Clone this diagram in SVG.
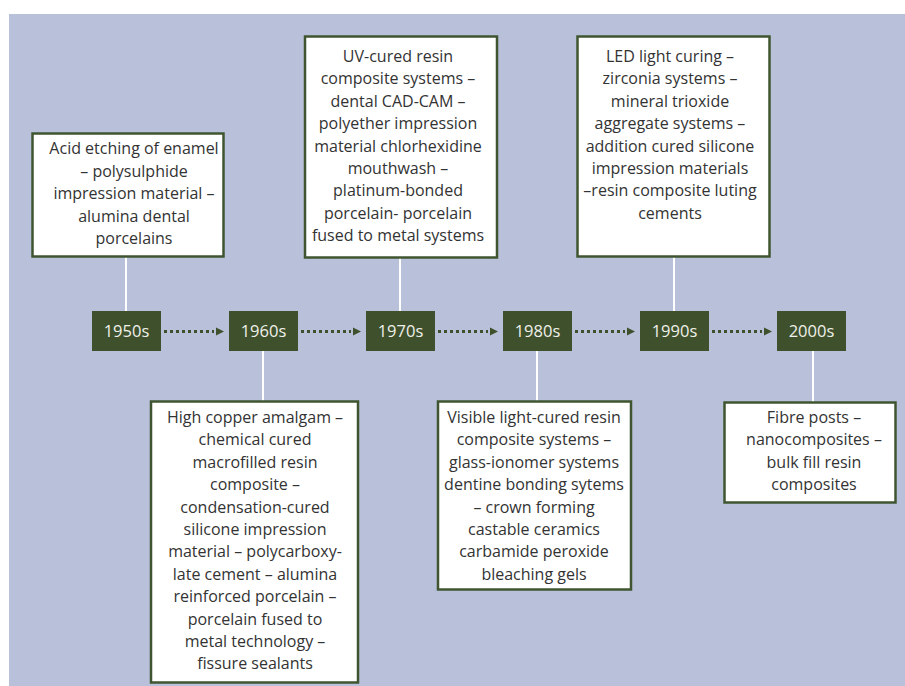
<svg xmlns="http://www.w3.org/2000/svg" width="905" height="686" viewBox="0 0 905 686">
<style>
.box{fill:#ffffff;stroke:#3f5530;stroke-width:2.5}
.yr{fill:#3e502c}
.t{font-family:"Open Sans",sans-serif;font-size:16px;fill:#333333;text-anchor:middle}
.y{font-family:"Open Sans",sans-serif;font-size:16.5px;fill:#f0f0ea;text-anchor:middle}
.stem{stroke:#ffffff;stroke-width:2}
.dots{stroke:#3e502c;stroke-width:3;stroke-dasharray:3 3;fill:none}
.head{fill:#3e502c}
</style>
<rect x="9" y="14" width="896" height="672" fill="#b8c0da"/>
<g id="connectors">
<line class="stem" x1="126" y1="257" x2="126" y2="311"/>
<line class="stem" x1="400" y1="258" x2="400" y2="311"/>
<line class="stem" x1="674" y1="257" x2="674" y2="311"/>
<line class="stem" x1="263" y1="351" x2="263" y2="401"/>
<line class="stem" x1="537" y1="351" x2="537" y2="401"/>
<line class="stem" x1="813" y1="351" x2="813" y2="402"/>
<g>
<line class="dots" x1="164" y1="331.5" x2="214" y2="331.5"/><polygon class="head" points="216,327.5 224,331.5 216,335.5"/>
<line class="dots" x1="301" y1="331.5" x2="351" y2="331.5"/><polygon class="head" points="353,327.5 361,331.5 353,335.5"/>
<line class="dots" x1="438" y1="331.5" x2="488" y2="331.5"/><polygon class="head" points="490,327.5 498,331.5 490,335.5"/>
<line class="dots" x1="575" y1="331.5" x2="625" y2="331.5"/><polygon class="head" points="627,327.5 635,331.5 627,335.5"/>
<line class="dots" x1="712" y1="331.5" x2="762" y2="331.5"/><polygon class="head" points="764,327.5 772,331.5 764,335.5"/>
</g>
</g>
<g id="y1950"><rect class="yr" x="92" y="311" width="69" height="40"/><text class="y" x="126.5" y="337">1950s</text></g>
<g id="y1960"><rect class="yr" x="229" y="311" width="69" height="40"/><text class="y" x="263.5" y="337">1960s</text></g>
<g id="y1970"><rect class="yr" x="366" y="311" width="69" height="40"/><text class="y" x="400.5" y="337">1970s</text></g>
<g id="y1980"><rect class="yr" x="503" y="311" width="69" height="40"/><text class="y" x="537.5" y="337">1980s</text></g>
<g id="y1990"><rect class="yr" x="640" y="311" width="69" height="40"/><text class="y" x="674.5" y="337">1990s</text></g>
<g id="y2000"><rect class="yr" x="777" y="311" width="69" height="40"/><text class="y" x="811.5" y="337">2000s</text></g>
<g id="d1950">
<rect class="box" x="32.5" y="133.5" width="191" height="123"/>
<text class="t" x="134" y="154">Acid etching of enamel</text>
<text class="t" x="134" y="176.5">– polysulphide</text>
<text class="t" x="134" y="199">impression material –</text>
<text class="t" x="134" y="221.5">alumina dental</text>
<text class="t" x="134" y="244">porcelains</text>
</g>
<g id="d1970">
<rect class="box" x="305" y="36.5" width="192" height="221"/>
<text class="t" x="398" y="62">UV-cured resin</text>
<text class="t" x="398" y="84.4">composite systems –</text>
<text class="t" x="398" y="106.8">dental CAD-CAM –</text>
<text class="t" x="398" y="129.2">polyether impression</text>
<text class="t" x="398" y="151.6">material chlorhexidine</text>
<text class="t" x="398" y="174">mouthwash –</text>
<text class="t" x="398" y="196.4">platinum-bonded</text>
<text class="t" x="398" y="218.8">porcelain- porcelain</text>
<text class="t" x="398" y="241.2">fused to metal systems</text>
</g>
<g id="d1990">
<rect class="box" x="577.5" y="36.5" width="192" height="220"/>
<text class="t" x="670" y="62">LED light curing –</text>
<text class="t" x="670" y="84.4">zirconia systems –</text>
<text class="t" x="670" y="106.8">mineral trioxide</text>
<text class="t" x="670" y="129.2">aggregate systems –</text>
<text class="t" x="670" y="151.6">addition cured silicone</text>
<text class="t" x="670" y="174">impression materials</text>
<text class="t" x="670" y="196.4">–resin composite luting</text>
<text class="t" x="670" y="218.8">cements</text>
</g>
<g id="d1960">
<rect class="box" x="151" y="401.5" width="207" height="281"/>
<text class="t" x="255" y="423">High copper amalgam –</text>
<text class="t" x="255" y="445.4">chemical cured</text>
<text class="t" x="255" y="467.8">macrofilled resin</text>
<text class="t" x="255" y="490.2">composite –</text>
<text class="t" x="255" y="512.6">condensation-cured</text>
<text class="t" x="255" y="535">silicone impression</text>
<text class="t" x="255" y="557.4">material – polycarboxy-</text>
<text class="t" x="255" y="579.8">late cement – alumina</text>
<text class="t" x="255" y="602.2">reinforced porcelain –</text>
<text class="t" x="255" y="624.6">porcelain fused to</text>
<text class="t" x="255" y="647">metal technology –</text>
<text class="t" x="255" y="669.4">fissure sealants</text>
</g>
<g id="d1980">
<rect class="box" x="438" y="401.5" width="193" height="188"/>
<text class="t" x="534" y="423">Visible light-cured resin</text>
<text class="t" x="534" y="445.4">composite systems –</text>
<text class="t" x="534" y="467.8">glass-ionomer systems</text>
<text class="t" x="534" y="490.2">dentine bonding sytems</text>
<text class="t" x="534" y="512.6">– crown forming</text>
<text class="t" x="534" y="535">castable ceramics</text>
<text class="t" x="534" y="557.4">carbamide peroxide</text>
<text class="t" x="534" y="579.8">bleaching gels</text>
</g>
<g id="d2000">
<rect class="box" x="724.5" y="402.5" width="171" height="100"/>
<text class="t" x="814" y="423">Fibre posts –</text>
<text class="t" x="814" y="445.4">nanocomposites –</text>
<text class="t" x="814" y="467.8">bulk fill resin</text>
<text class="t" x="814" y="490.2">composites</text>
</g>
</svg>
